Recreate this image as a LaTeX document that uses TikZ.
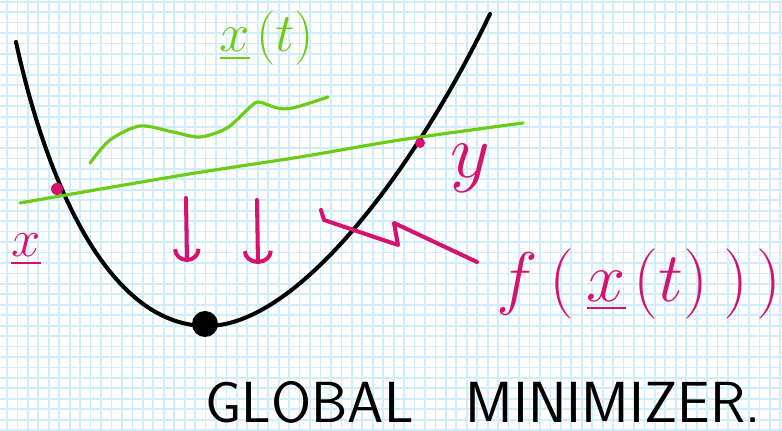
\RequirePackage{fix-cm}
\documentclass[tikz,border=0pt]{standalone}
\usepackage{amsmath}
\usepackage{tikz}
\usetikzlibrary{arrows.meta}

\definecolor{gridblue}{RGB}{208,237,251}
\definecolor{inkpink}{RGB}{214,18,112}
\definecolor{inkgreen}{RGB}{108,204,20}

\begin{document}
\begin{tikzpicture}[x=0.02cm,y=-0.02cm,
    ink/.style={line width=2.3pt, line cap=round, line join=round},
    pinkink/.style={ink, inkpink},
    greenink/.style={line width=1.8pt, line cap=round, inkgreen},
    dot/.style={circle, fill=inkpink, inner sep=0pt, minimum size=0.24cm}]
    % Paper
    \useasboundingbox (0,0) rectangle (782,431);
    \fill[white] (0,0) rectangle (782,431);

    % Grid
    \foreach \i in {0,...,74}
        \draw[gridblue, line width=1pt] ({7+10.45*\i},0) -- ({7+10.45*\i},431);
    \foreach \j in {0,...,41}
        \draw[gridblue, line width=1pt] (0,{1.7+10.45*\j}) -- (782,{1.7+10.45*\j});

    % The function f (convex bowl)
    \draw[ink, black] (16,42) .. controls (45,175) and (105,324) .. (205,326)
                              .. controls (300,328) and (420,160) .. (490,14);

    % Global minimizer
    \node[circle, fill=black, inner sep=0pt, minimum width=0.52cm, minimum height=0.48cm] (xmin) at (205,324) {};

    % Segment between x and y
    \draw[greenink] plot[smooth] coordinates {(20,203) (183,175) (300,157) (400,140) (523,123)};
    \node[dot] (xpt) at (57,189) {};
    \node[dot, minimum size=0.2cm] (ypt) at (420,143) {};

    % Path x(t)
    \draw[greenink] plot[smooth] coordinates {(90,163) (110,140) (140,126) (173,132) (200,137) (227,128) (247,110) (258,102) (277,108) (293,108) (328,97)};

    % Labels
    \node[inkgreen, font=\fontsize{31}{35}\selectfont] (xtlabel) at (267,38) {$\underline{x}\mkern2mu(t)$};
    \node[inkpink, font=\fontsize{30}{34}\selectfont] (xlabel) at (26,250) {$\underline{x}$};
    \node[inkpink, font=\fontsize{44}{48}\selectfont] (ylabel) at (470,168) {$y$};
    \node[inkpink, inner sep=1pt, font=\fontsize{40}{46}\selectfont] (flabel) at (639,284)
        {$f\mkern3mu(\mkern3mu\underline{x}\mkern2mu(t)\mkern4mu)\mkern2mu)$};
    \node[font=\fontsize{33}{38}\selectfont\sffamily] (minlabel) at (483,402)
        {GLOBAL\hspace{0.9em}MINIMIZER.};

    % Going down
    \coordinate (a1top) at (186,198);
    \coordinate (a1tip) at (187,262);
    \coordinate (a2top) at (257,200);
    \coordinate (a2tip) at (258,264);
    \draw[pinkink, -{Arc Barb[length=2.6mm, width=5.5mm]}] (a1top) -- (a1tip);
    \draw[pinkink, -{Arc Barb[length=2.6mm, width=6mm]}] (a2top) -- (a2tip);

    % Zigzag to f(x(t))
    \draw[pinkink] (321,210) -- (324,220) -- (398,245) -- (394,223) -- (477,262);

\end{tikzpicture}
\end{document}
